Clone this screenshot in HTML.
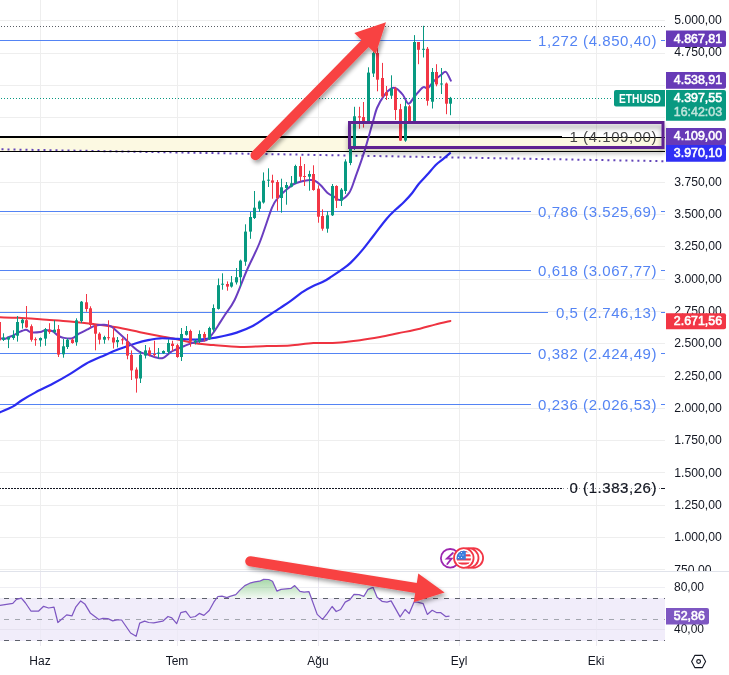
<!DOCTYPE html><html><head><meta charset="utf-8"><style>html,body{margin:0;padding:0;background:#fff;overflow:hidden}svg{display:block;will-change:transform}text{font-family:"Liberation Sans",sans-serif}</style></head><body>
<svg width="729" height="675" viewBox="0 0 729 675">
<defs><filter id="sh" x="-20%" y="-40%" width="140%" height="180%"><feGaussianBlur in="SourceAlpha" stdDeviation="2.2"/><feOffset dx="2" dy="3" result="b"/><feComponentTransfer><feFuncA type="linear" slope="0.36"/></feComponentTransfer><feMerge><feMergeNode/><feMergeNode in="SourceGraphic"/></feMerge></filter><linearGradient id="gf" gradientUnits="userSpaceOnUse" x1="0" y1="579" x2="0" y2="598.5"><stop offset="0" stop-color="#4caf50" stop-opacity="0.5"/><stop offset="0.6" stop-color="#4caf50" stop-opacity="0.25"/><stop offset="1" stop-color="#4caf50" stop-opacity="0.06"/></linearGradient><linearGradient id="rs" x1="0" y1="0" x2="0" y2="1"><stop offset="0" stop-color="#000" stop-opacity="0.22"/><stop offset="1" stop-color="#000" stop-opacity="0"/></linearGradient><filter id="rsh" x="-5%" y="-50%" width="110%" height="200%"><feGaussianBlur in="SourceAlpha" stdDeviation="2.5"/><feOffset dx="0" dy="4"/><feComponentTransfer><feFuncA type="linear" slope="0.38"/></feComponentTransfer><feMerge><feMergeNode/><feMergeNode in="SourceGraphic"/></feMerge></filter><clipPath id="cc"><rect x="0" y="0" width="665" height="571"/></clipPath><clipPath id="rc"><rect x="0" y="572" width="665" height="74"/></clipPath></defs>
<rect width="729" height="675" fill="#fff"/>
<rect x="40" y="0" width="1" height="646" fill="#eeeeee"/>
<rect x="177" y="0" width="1" height="646" fill="#eeeeee"/>
<rect x="318" y="0" width="1" height="646" fill="#eeeeee"/>
<rect x="459" y="0" width="1" height="646" fill="#eeeeee"/>
<rect x="596" y="0" width="1" height="646" fill="#eeeeee"/>
<rect x="0" y="20" width="665" height="1" fill="#eeeeee"/>
<rect x="0" y="53" width="665" height="1" fill="#eeeeee"/>
<rect x="0" y="85" width="665" height="1" fill="#eeeeee"/>
<rect x="0" y="117" width="665" height="1" fill="#eeeeee"/>
<rect x="0" y="150" width="665" height="1" fill="#eeeeee"/>
<rect x="0" y="182" width="665" height="1" fill="#eeeeee"/>
<rect x="0" y="214" width="665" height="1" fill="#eeeeee"/>
<rect x="0" y="246" width="665" height="1" fill="#eeeeee"/>
<rect x="0" y="279" width="665" height="1" fill="#eeeeee"/>
<rect x="0" y="311" width="665" height="1" fill="#eeeeee"/>
<rect x="0" y="343" width="665" height="1" fill="#eeeeee"/>
<rect x="0" y="376" width="665" height="1" fill="#eeeeee"/>
<rect x="0" y="408" width="665" height="1" fill="#eeeeee"/>
<rect x="0" y="440" width="665" height="1" fill="#eeeeee"/>
<rect x="0" y="472" width="665" height="1" fill="#eeeeee"/>
<rect x="0" y="505" width="665" height="1" fill="#eeeeee"/>
<rect x="0" y="537" width="665" height="1" fill="#eeeeee"/>
<rect x="0" y="569" width="665" height="1" fill="#eeeeee"/>
<rect x="0" y="138" width="665" height="13" fill="#fcf9e2"/>
<line x1="0" y1="26.5" x2="665" y2="26.5" stroke="#5a5e66" stroke-width="1" stroke-dasharray="1 2" stroke-dashoffset="-1"/>
<line x1="0" y1="98.5" x2="613" y2="98.5" stroke="#089981" stroke-width="1" stroke-dasharray="1 2" stroke-dashoffset="-1"/>
<line x1="0" y1="149.3" x2="665" y2="161.2" stroke="#6244b8" stroke-width="2" stroke-dasharray="2 4" stroke-dashoffset="-1.5"/>
<rect x="0" y="40" width="531" height="1" fill="#5484f4"/>
<rect x="661" y="40" width="4" height="1" fill="#5484f4"/>
<text x="657" y="45.5" text-anchor="end" font-size="15" letter-spacing="0.55" fill="#5484f4">1,272 (4.850,40)</text>
<rect x="0" y="211" width="531" height="1" fill="#5484f4"/>
<rect x="661" y="211" width="4" height="1" fill="#5484f4"/>
<text x="657" y="216.5" text-anchor="end" font-size="15" letter-spacing="0.55" fill="#5484f4">0,786 (3.525,69)</text>
<rect x="0" y="270" width="531" height="1" fill="#5484f4"/>
<rect x="661" y="270" width="4" height="1" fill="#5484f4"/>
<text x="657" y="275.5" text-anchor="end" font-size="15" letter-spacing="0.55" fill="#5484f4">0,618 (3.067,77)</text>
<rect x="0" y="312" width="548" height="1" fill="#5484f4"/>
<rect x="661" y="312" width="4" height="1" fill="#5484f4"/>
<text x="657" y="317.5" text-anchor="end" font-size="15" letter-spacing="0.55" fill="#5484f4">0,5 (2.746,13)</text>
<rect x="0" y="353" width="531" height="1" fill="#5484f4"/>
<rect x="661" y="353" width="4" height="1" fill="#5484f4"/>
<text x="657" y="358.5" text-anchor="end" font-size="15" letter-spacing="0.55" fill="#5484f4">0,382 (2.424,49)</text>
<rect x="0" y="404" width="531" height="1" fill="#5484f4"/>
<rect x="661" y="404" width="4" height="1" fill="#5484f4"/>
<text x="657" y="409.5" text-anchor="end" font-size="15" letter-spacing="0.55" fill="#5484f4">0,236 (2.026,53)</text>
<line x1="0" y1="488.5" x2="563" y2="488.5" stroke="#131722" stroke-width="1" stroke-dasharray="2 1" stroke-dashoffset="1"/>
<line x1="563" y1="488.5" x2="660" y2="488.5" stroke="#8a8d96" stroke-width="1" stroke-dasharray="1 3"/>
<rect x="661" y="488" width="4" height="1" fill="#131722"/>
<text x="657" y="493" text-anchor="end" font-size="15" letter-spacing="0.55" fill="#131722" stroke="#131722" stroke-width="0.2">0 (1.383,26)</text>
<rect x="0" y="136" width="562" height="2" fill="#000"/>
<rect x="562" y="137" width="103" height="1" fill="#000"/>
<rect x="0" y="151" width="665" height="1" fill="#000"/>
<text x="657" y="141.6" text-anchor="end" font-size="15" letter-spacing="0.55" fill="#474747">1 (4.109,00)</text>
<g clip-path="url(#cc)">
<path d="M0.0,317.3 C3.1,317.4 10.9,317.4 18.7,317.8 C26.5,318.2 38.1,319.2 46.6,319.8 C55.1,320.4 62.2,320.8 70.0,321.5 C77.8,322.2 85.5,323.0 93.3,324.0 C101.1,325.0 108.8,325.9 116.6,327.3 C124.4,328.7 132.2,330.6 140.0,332.2 C147.8,333.8 156.9,335.6 163.2,336.8 C169.5,338.0 172.4,338.3 177.8,339.4 C183.2,340.5 189.8,342.4 195.7,343.3 C201.6,344.2 206.1,344.5 213.5,345.1 C220.9,345.7 231.3,346.8 240.2,346.9 C249.1,347.0 258.7,346.2 267.0,346.0 C275.3,345.8 282.3,346.0 290.0,345.5 C297.7,345.0 305.5,343.6 313.3,343.1 C321.1,342.6 328.8,343.2 336.6,342.7 C344.4,342.2 352.8,341.1 360.0,340.2 C367.2,339.2 373.7,338.1 380.0,337.0 C386.3,335.9 391.3,334.7 398.0,333.3 C404.7,331.9 413.8,330.1 420.0,328.7 C426.2,327.2 429.9,325.9 435.0,324.6 C440.1,323.3 447.8,321.6 450.4,321.0" fill="none" stroke="#ee3340" stroke-width="2" stroke-linejoin="round" stroke-linecap="round"/>
<path d="M0.0,412.3 C2.2,411.3 9.5,408.4 13.2,406.4 C16.8,404.4 18.2,402.5 21.9,400.2 C25.5,397.9 30.0,395.3 35.1,392.6 C40.2,389.9 46.9,386.9 52.7,383.8 C58.6,380.7 64.7,377.2 70.2,373.9 C75.7,370.6 80.5,366.9 85.6,364.0 C90.7,361.1 95.5,359.2 101.0,356.8 C106.5,354.4 112.7,351.6 118.5,349.3 C124.3,347.0 131.0,344.8 136.1,343.2 C141.2,341.6 145.3,340.7 149.3,339.9 C153.3,339.1 155.2,338.5 160.0,338.3 C164.8,338.1 171.9,338.6 177.8,338.8 C183.8,339.0 190.3,339.8 195.7,339.7 C201.0,339.6 205.4,339.1 209.9,338.5 C214.4,337.9 217.9,337.2 222.4,336.2 C226.9,335.2 231.6,334.3 236.7,332.6 C241.8,330.9 247.6,328.7 252.7,326.0 C257.8,323.3 262.4,319.6 267.0,316.6 C271.6,313.6 276.1,310.7 280.0,308.1 C283.9,305.5 286.6,303.9 290.4,301.2 C294.2,298.5 299.0,294.4 302.8,291.9 C306.6,289.4 309.8,287.8 313.2,286.1 C316.6,284.4 320.4,283.2 323.5,281.6 C326.6,280.0 328.9,278.3 331.8,276.4 C334.7,274.5 338.0,272.4 341.1,270.2 C344.2,267.9 346.9,266.4 350.5,262.9 C354.1,259.4 359.1,253.9 362.9,249.4 C366.7,244.9 369.3,241.1 373.3,236.0 C377.3,230.9 382.9,223.1 386.7,218.7 C390.5,214.2 393.1,212.1 396.0,209.3 C398.9,206.5 401.3,204.7 404.0,202.0 C406.7,199.3 409.6,196.3 412.0,193.3 C414.4,190.3 416.2,187.0 418.7,184.0 C421.1,181.0 423.8,178.5 426.7,175.3 C429.6,172.1 433.3,167.4 436.0,164.7 C438.7,162.0 440.4,161.2 442.7,159.3 C445.0,157.4 448.8,154.1 450.0,153.1" fill="none" stroke="#2b2bf0" stroke-width="2.2" stroke-linejoin="round" stroke-linecap="round"/>
<path d="M0.0,338.1 C0.7,338.2 3.0,339.1 4.4,339.0 C5.8,338.9 6.9,337.8 8.4,337.2 C9.9,336.6 11.7,336.1 13.3,335.4 C14.9,334.7 15.7,333.8 17.8,332.8 C19.9,331.9 23.6,329.8 25.8,329.7 C28.0,329.6 28.6,331.9 31.0,332.3 C33.4,332.7 38.0,332.3 40.3,332.0 C42.6,331.7 43.0,330.5 45.0,330.3 C47.0,330.1 50.0,330.1 52.2,331.0 C54.4,331.9 56.3,334.6 58.1,335.7 C59.9,336.8 60.6,337.3 63.0,337.7 C65.4,338.1 69.6,339.0 72.3,338.3 C75.0,337.6 76.5,335.1 79.0,333.7 C81.5,332.3 84.3,331.0 87.0,329.7 C89.7,328.4 92.1,326.5 95.0,325.7 C97.9,324.9 101.6,324.6 104.3,324.7 C107.0,324.8 109.0,325.4 111.0,326.3 C113.0,327.2 113.7,328.4 116.0,330.4 C118.3,332.4 122.1,335.9 124.8,338.5 C127.5,341.1 129.7,343.8 132.2,346.0 C134.7,348.2 136.9,350.4 139.6,351.9 C142.3,353.4 145.5,353.8 148.5,354.8 C151.5,355.8 154.9,357.3 157.4,357.8 C159.9,358.3 161.2,358.7 163.3,357.8 C165.4,356.9 168.2,353.8 170.0,352.6 C171.8,351.4 171.5,351.5 173.9,350.4 C176.3,349.3 180.9,347.4 184.3,346.0 C187.8,344.6 190.9,343.2 194.6,342.2 C198.3,341.2 203.5,341.4 206.5,340.0 C209.5,338.6 210.4,336.5 212.4,334.0 C214.4,331.5 216.2,328.4 218.3,325.2 C220.4,322.0 222.3,319.0 225.0,314.8 C227.7,310.6 230.9,307.5 234.6,300.0 C238.3,292.5 242.8,279.5 247.0,270.0 C251.2,260.5 255.3,253.4 259.5,243.0 C263.7,232.6 268.9,215.2 272.0,207.7 C275.1,200.2 275.7,200.9 278.0,198.0 C280.3,195.1 283.3,192.3 286.0,190.0 C288.7,187.7 291.3,185.4 294.0,184.0 C296.7,182.6 299.3,182.0 302.0,181.3 C304.7,180.6 307.9,180.1 310.0,180.0 C312.1,179.9 312.9,179.8 314.7,180.7 C316.5,181.6 318.6,183.3 320.7,185.3 C322.8,187.3 325.1,190.8 327.3,192.7 C329.5,194.6 331.8,195.5 334.0,196.7 C336.2,197.9 337.8,200.7 340.4,200.0 C342.9,199.3 346.8,196.3 349.3,192.6 C351.8,188.9 352.8,184.5 355.2,177.8 C357.6,171.1 361.0,162.0 364.0,152.6 C367.0,143.2 370.8,128.9 373.0,121.5 C375.2,114.1 375.2,112.3 377.0,108.0 C378.8,103.7 381.7,98.9 384.0,95.7 C386.3,92.5 388.9,89.8 391.0,88.6 C393.1,87.4 394.5,87.5 396.5,88.6 C398.5,89.7 401.0,92.5 403.0,95.0 C405.0,97.5 406.6,103.4 408.5,103.7 C410.4,104.0 411.8,99.7 414.2,97.0 C416.6,94.3 420.6,88.8 422.9,87.3 C425.1,85.8 425.9,89.3 427.7,88.3 C429.5,87.3 431.2,83.8 433.5,81.5 C435.8,79.2 439.1,76.4 441.2,74.8 C443.3,73.2 444.4,71.0 446.0,72.0 C447.6,73.0 450.0,79.2 450.8,80.6" fill="none" stroke="#6a3dc0" stroke-width="2" stroke-linejoin="round" stroke-linecap="round"/>
<rect x="-1" y="318.0" width="1" height="24.0" fill="#f23645"/>
<rect x="-2" y="322.0" width="3" height="18.4" fill="#f23645"/>
<rect x="3" y="333.3" width="1" height="7.7" fill="#089981"/>
<rect x="2" y="337.4" width="3" height="2.4" fill="#089981"/>
<rect x="8" y="336.9" width="1" height="11.2" fill="#089981"/>
<rect x="7" y="336.9" width="3" height="2.7" fill="#089981"/>
<rect x="13" y="330.3" width="1" height="9.5" fill="#089981"/>
<rect x="12" y="335.0" width="3" height="3.0" fill="#089981"/>
<rect x="17" y="316.0" width="1" height="25.6" fill="#089981"/>
<rect x="16" y="322.0" width="3" height="13.7" fill="#089981"/>
<rect x="22" y="318.5" width="1" height="10.1" fill="#089981"/>
<rect x="21" y="319.7" width="3" height="3.5" fill="#089981"/>
<rect x="26" y="306.0" width="1" height="22.0" fill="#f23645"/>
<rect x="25" y="320.2" width="3" height="7.2" fill="#f23645"/>
<rect x="31" y="324.4" width="1" height="17.2" fill="#f23645"/>
<rect x="30" y="326.2" width="3" height="13.6" fill="#f23645"/>
<rect x="35" y="337.4" width="1" height="8.4" fill="#f23645"/>
<rect x="34" y="339.2" width="3" height="1.0" fill="#f23645"/>
<rect x="40" y="337.4" width="1" height="9.3" fill="#089981"/>
<rect x="39" y="338.0" width="3" height="2.4" fill="#089981"/>
<rect x="45" y="328.0" width="1" height="17.8" fill="#089981"/>
<rect x="44" y="329.1" width="3" height="9.5" fill="#089981"/>
<rect x="49" y="323.2" width="1" height="10.7" fill="#f23645"/>
<rect x="48" y="329.7" width="3" height="2.4" fill="#f23645"/>
<rect x="54" y="320.2" width="1" height="13.1" fill="#089981"/>
<rect x="53" y="329.7" width="3" height="2.4" fill="#089981"/>
<rect x="58" y="325.0" width="1" height="32.0" fill="#f23645"/>
<rect x="57" y="329.1" width="3" height="25.5" fill="#f23645"/>
<rect x="63" y="339.0" width="1" height="18.7" fill="#089981"/>
<rect x="62" y="346.3" width="3" height="8.0" fill="#089981"/>
<rect x="67" y="338.3" width="1" height="10.7" fill="#089981"/>
<rect x="66" y="339.7" width="3" height="7.3" fill="#089981"/>
<rect x="72" y="338.3" width="1" height="5.4" fill="#f23645"/>
<rect x="71" y="339.7" width="3" height="3.3" fill="#f23645"/>
<rect x="76" y="318.3" width="1" height="27.4" fill="#089981"/>
<rect x="75" y="320.3" width="3" height="22.0" fill="#089981"/>
<rect x="81" y="301.0" width="1" height="22.0" fill="#089981"/>
<rect x="80" y="301.7" width="3" height="19.3" fill="#089981"/>
<rect x="86" y="294.0" width="1" height="17.7" fill="#f23645"/>
<rect x="85" y="302.3" width="3" height="6.7" fill="#f23645"/>
<rect x="90" y="306.3" width="1" height="21.4" fill="#f23645"/>
<rect x="89" y="308.3" width="3" height="16.7" fill="#f23645"/>
<rect x="95" y="324.3" width="1" height="26.0" fill="#f23645"/>
<rect x="94" y="325.0" width="3" height="8.7" fill="#f23645"/>
<rect x="99" y="332.3" width="1" height="12.0" fill="#f23645"/>
<rect x="98" y="333.7" width="3" height="6.0" fill="#f23645"/>
<rect x="104" y="335.7" width="1" height="8.0" fill="#089981"/>
<rect x="103" y="337.0" width="3" height="2.7" fill="#089981"/>
<rect x="108" y="320.3" width="1" height="20.0" fill="#f23645"/>
<rect x="107" y="337.2" width="3" height="1.0" fill="#f23645"/>
<rect x="113" y="327.7" width="1" height="20.8" fill="#f23645"/>
<rect x="112" y="337.5" width="3" height="5.0" fill="#f23645"/>
<rect x="117" y="337.0" width="1" height="10.4" fill="#089981"/>
<rect x="116" y="340.0" width="3" height="2.2" fill="#089981"/>
<rect x="122" y="337.8" width="1" height="6.6" fill="#f23645"/>
<rect x="121" y="339.3" width="3" height="1.0" fill="#f23645"/>
<rect x="127" y="334.0" width="1" height="25.3" fill="#f23645"/>
<rect x="126" y="341.5" width="3" height="14.1" fill="#f23645"/>
<rect x="131" y="350.4" width="1" height="29.6" fill="#f23645"/>
<rect x="130" y="354.8" width="3" height="15.6" fill="#f23645"/>
<rect x="136" y="367.4" width="1" height="25.2" fill="#f23645"/>
<rect x="135" y="369.6" width="3" height="8.9" fill="#f23645"/>
<rect x="140" y="351.0" width="1" height="32.0" fill="#089981"/>
<rect x="139" y="354.8" width="3" height="23.7" fill="#089981"/>
<rect x="145" y="345.0" width="1" height="13.5" fill="#089981"/>
<rect x="144" y="350.4" width="3" height="5.2" fill="#089981"/>
<rect x="149" y="347.4" width="1" height="8.9" fill="#f23645"/>
<rect x="148" y="350.4" width="3" height="4.4" fill="#f23645"/>
<rect x="154" y="340.7" width="1" height="16.3" fill="#f23645"/>
<rect x="153" y="354.0" width="3" height="1.0" fill="#f23645"/>
<rect x="158" y="348.0" width="1" height="10.5" fill="#089981"/>
<rect x="157" y="352.6" width="3" height="1.0" fill="#089981"/>
<rect x="163" y="350.4" width="1" height="3.6" fill="#089981"/>
<rect x="162" y="351.0" width="3" height="2.3" fill="#089981"/>
<rect x="168" y="339.3" width="1" height="14.7" fill="#089981"/>
<rect x="167" y="343.0" width="3" height="8.9" fill="#089981"/>
<rect x="172" y="340.7" width="1" height="10.3" fill="#f23645"/>
<rect x="171" y="343.7" width="3" height="2.3" fill="#f23645"/>
<rect x="177" y="343.7" width="1" height="14.1" fill="#f23645"/>
<rect x="176" y="345.2" width="3" height="11.8" fill="#f23645"/>
<rect x="181" y="328.0" width="1" height="33.0" fill="#089981"/>
<rect x="180" y="334.0" width="3" height="23.0" fill="#089981"/>
<rect x="186" y="326.0" width="1" height="9.6" fill="#089981"/>
<rect x="185" y="331.0" width="3" height="3.8" fill="#089981"/>
<rect x="190" y="329.6" width="1" height="17.1" fill="#f23645"/>
<rect x="189" y="331.0" width="3" height="10.5" fill="#f23645"/>
<rect x="195" y="339.3" width="1" height="5.1" fill="#089981"/>
<rect x="194" y="340.7" width="3" height="1.5" fill="#089981"/>
<rect x="199" y="330.4" width="1" height="12.6" fill="#089981"/>
<rect x="198" y="334.0" width="3" height="7.5" fill="#089981"/>
<rect x="204" y="331.9" width="1" height="9.6" fill="#f23645"/>
<rect x="203" y="334.0" width="3" height="3.8" fill="#f23645"/>
<rect x="209" y="326.7" width="1" height="13.3" fill="#089981"/>
<rect x="208" y="328.0" width="3" height="11.3" fill="#089981"/>
<rect x="213" y="304.4" width="1" height="27.5" fill="#089981"/>
<rect x="212" y="308.0" width="3" height="21.6" fill="#089981"/>
<rect x="218" y="278.5" width="1" height="31.1" fill="#089981"/>
<rect x="217" y="285.2" width="3" height="23.7" fill="#089981"/>
<rect x="222" y="273.3" width="1" height="16.4" fill="#089981"/>
<rect x="221" y="283.7" width="3" height="1.0" fill="#089981"/>
<rect x="227" y="281.4" width="1" height="9.3" fill="#f23645"/>
<rect x="226" y="284.0" width="3" height="2.6" fill="#f23645"/>
<rect x="231" y="276.0" width="1" height="11.6" fill="#089981"/>
<rect x="230" y="282.4" width="3" height="4.2" fill="#089981"/>
<rect x="236" y="268.0" width="1" height="16.5" fill="#089981"/>
<rect x="235" y="277.2" width="3" height="5.2" fill="#089981"/>
<rect x="240" y="259.6" width="1" height="27.0" fill="#089981"/>
<rect x="239" y="260.6" width="3" height="16.6" fill="#089981"/>
<rect x="245" y="224.3" width="1" height="41.5" fill="#089981"/>
<rect x="244" y="231.6" width="3" height="30.1" fill="#089981"/>
<rect x="250" y="211.9" width="1" height="26.9" fill="#089981"/>
<rect x="249" y="217.0" width="3" height="14.6" fill="#089981"/>
<rect x="254" y="191.0" width="1" height="28.0" fill="#089981"/>
<rect x="253" y="207.7" width="3" height="10.3" fill="#089981"/>
<rect x="259" y="200.5" width="1" height="11.4" fill="#089981"/>
<rect x="258" y="201.5" width="3" height="7.3" fill="#089981"/>
<rect x="263" y="172.4" width="1" height="31.2" fill="#089981"/>
<rect x="262" y="180.7" width="3" height="21.8" fill="#089981"/>
<rect x="268" y="168.3" width="1" height="18.7" fill="#089981"/>
<rect x="267" y="179.7" width="3" height="1.0" fill="#089981"/>
<rect x="272" y="174.7" width="1" height="24.0" fill="#f23645"/>
<rect x="271" y="180.4" width="3" height="2.3" fill="#f23645"/>
<rect x="277" y="180.0" width="1" height="30.7" fill="#f23645"/>
<rect x="276" y="182.0" width="3" height="16.0" fill="#f23645"/>
<rect x="281" y="178.7" width="1" height="34.0" fill="#089981"/>
<rect x="280" y="187.3" width="3" height="10.7" fill="#089981"/>
<rect x="286" y="182.0" width="1" height="22.7" fill="#089981"/>
<rect x="285" y="185.0" width="3" height="3.0" fill="#089981"/>
<rect x="291" y="176.0" width="1" height="11.3" fill="#089981"/>
<rect x="290" y="183.3" width="3" height="3.4" fill="#089981"/>
<rect x="295" y="164.7" width="1" height="19.3" fill="#089981"/>
<rect x="294" y="166.0" width="3" height="17.3" fill="#089981"/>
<rect x="300" y="156.7" width="1" height="24.6" fill="#f23645"/>
<rect x="299" y="166.0" width="3" height="10.7" fill="#f23645"/>
<rect x="304" y="164.0" width="1" height="22.0" fill="#f23645"/>
<rect x="303" y="176.0" width="3" height="1.0" fill="#f23645"/>
<rect x="309" y="170.7" width="1" height="20.0" fill="#089981"/>
<rect x="308" y="174.0" width="3" height="2.7" fill="#089981"/>
<rect x="313" y="165.3" width="1" height="25.4" fill="#f23645"/>
<rect x="312" y="174.0" width="3" height="16.0" fill="#f23645"/>
<rect x="318" y="185.3" width="1" height="37.4" fill="#f23645"/>
<rect x="317" y="188.7" width="3" height="28.0" fill="#f23645"/>
<rect x="322" y="209.3" width="1" height="21.4" fill="#f23645"/>
<rect x="321" y="216.0" width="3" height="12.7" fill="#f23645"/>
<rect x="327" y="211.3" width="1" height="21.4" fill="#089981"/>
<rect x="326" y="215.3" width="3" height="13.4" fill="#089981"/>
<rect x="332" y="184.0" width="1" height="32.0" fill="#089981"/>
<rect x="331" y="186.0" width="3" height="29.3" fill="#089981"/>
<rect x="336" y="185.3" width="1" height="22.7" fill="#f23645"/>
<rect x="335" y="186.0" width="3" height="14.7" fill="#f23645"/>
<rect x="341" y="188.0" width="1" height="18.0" fill="#089981"/>
<rect x="340" y="189.6" width="3" height="11.1" fill="#089981"/>
<rect x="345" y="159.3" width="1" height="34.7" fill="#089981"/>
<rect x="344" y="161.5" width="3" height="29.5" fill="#089981"/>
<rect x="350" y="146.7" width="1" height="18.5" fill="#089981"/>
<rect x="349" y="148.9" width="3" height="14.1" fill="#089981"/>
<rect x="354" y="106.8" width="1" height="43.2" fill="#089981"/>
<rect x="353" y="116.3" width="3" height="32.6" fill="#089981"/>
<rect x="359" y="106.8" width="1" height="22.0" fill="#f23645"/>
<rect x="358" y="116.3" width="3" height="1.2" fill="#f23645"/>
<rect x="363" y="102.0" width="1" height="25.6" fill="#f23645"/>
<rect x="362" y="117.0" width="3" height="4.0" fill="#f23645"/>
<rect x="368" y="67.3" width="1" height="55.1" fill="#089981"/>
<rect x="367" y="72.6" width="3" height="48.4" fill="#089981"/>
<rect x="373" y="51.3" width="1" height="25.7" fill="#089981"/>
<rect x="372" y="53.0" width="3" height="20.5" fill="#089981"/>
<rect x="377" y="47.8" width="1" height="43.5" fill="#f23645"/>
<rect x="376" y="53.0" width="3" height="26.7" fill="#f23645"/>
<rect x="382" y="62.9" width="1" height="34.6" fill="#f23645"/>
<rect x="381" y="78.0" width="3" height="18.6" fill="#f23645"/>
<rect x="386" y="86.0" width="1" height="14.0" fill="#f23645"/>
<rect x="385" y="92.2" width="3" height="3.5" fill="#f23645"/>
<rect x="391" y="75.3" width="1" height="23.1" fill="#089981"/>
<rect x="390" y="88.6" width="3" height="7.1" fill="#089981"/>
<rect x="395" y="86.8" width="1" height="33.1" fill="#f23645"/>
<rect x="394" y="88.6" width="3" height="21.4" fill="#f23645"/>
<rect x="400" y="103.9" width="1" height="37.1" fill="#f23645"/>
<rect x="399" y="109.2" width="3" height="31.4" fill="#f23645"/>
<rect x="405" y="101.0" width="1" height="40.8" fill="#089981"/>
<rect x="404" y="106.3" width="3" height="34.3" fill="#089981"/>
<rect x="409" y="105.0" width="1" height="16.0" fill="#f23645"/>
<rect x="408" y="106.3" width="3" height="14.7" fill="#f23645"/>
<rect x="414" y="35.1" width="1" height="85.9" fill="#089981"/>
<rect x="413" y="42.0" width="3" height="79.0" fill="#089981"/>
<rect x="418" y="42.0" width="1" height="22.2" fill="#f23645"/>
<rect x="417" y="42.0" width="3" height="7.8" fill="#f23645"/>
<rect x="423" y="25.8" width="1" height="31.7" fill="#089981"/>
<rect x="422" y="48.8" width="3" height="1.0" fill="#089981"/>
<rect x="427" y="47.0" width="1" height="58.6" fill="#f23645"/>
<rect x="426" y="48.8" width="3" height="52.0" fill="#f23645"/>
<rect x="432" y="68.0" width="1" height="40.5" fill="#089981"/>
<rect x="431" y="72.0" width="3" height="29.7" fill="#089981"/>
<rect x="436" y="64.2" width="1" height="22.1" fill="#f23645"/>
<rect x="435" y="72.0" width="3" height="12.4" fill="#f23645"/>
<rect x="441" y="68.0" width="1" height="26.0" fill="#089981"/>
<rect x="440" y="83.5" width="3" height="1.0" fill="#089981"/>
<rect x="446" y="82.5" width="1" height="31.7" fill="#f23645"/>
<rect x="445" y="83.5" width="3" height="20.2" fill="#f23645"/>
<rect x="450" y="96.9" width="1" height="18.3" fill="#089981"/>
<rect x="449" y="97.9" width="3" height="5.8" fill="#089981"/>
</g>
<rect x="349.5" y="122.5" width="313.5" height="25" fill="none" stroke="#5f2392" stroke-width="3" filter="url(#rsh)"/>
<g filter="url(#sh)"><line x1="255.5" y1="155.2" x2="366.4" y2="42.2" stroke="#f84343" stroke-width="10.0" stroke-linecap="round"/><path d="M375.7,54.1 L386.0,22.2 L354.3,33.1 Z" fill="#f84343"/></g>
<rect x="0" y="571" width="729" height="1" fill="#e0e3eb"/>
<rect x="0" y="598" width="665" height="43" fill="#f1edfa"/>
<rect x="0" y="587" width="665" height="1" fill="#eeeef3"/>
<rect x="0" y="629" width="665" height="1" fill="#e6e2f0"/>
<rect x="40" y="572" width="1" height="74" fill="#e9e6f2" opacity="0.6"/>
<rect x="177" y="572" width="1" height="74" fill="#e9e6f2" opacity="0.6"/>
<rect x="318" y="572" width="1" height="74" fill="#e9e6f2" opacity="0.6"/>
<rect x="459" y="572" width="1" height="74" fill="#e9e6f2" opacity="0.6"/>
<rect x="596" y="572" width="1" height="74" fill="#e9e6f2" opacity="0.6"/>
<line x1="4" y1="598.5" x2="665" y2="598.5" stroke="#5d606b" stroke-width="1" stroke-dasharray="5 6"/>
<line x1="4" y1="619.5" x2="665" y2="619.5" stroke="#a3a6af" stroke-width="1" stroke-dasharray="5 6"/>
<line x1="4" y1="640.5" x2="665" y2="640.5" stroke="#5d606b" stroke-width="1" stroke-dasharray="5 6"/>
<clipPath id="ab"><rect x="0" y="560" width="665" height="38.5"/></clipPath>
<polygon clip-path="url(#ab)" points="0.0,605.5 6.6,604.4 12.8,603.4 16.5,599.4 21.4,598.1 25.5,603.0 30.9,611.0 38.7,611.0 43.6,606.3 48.6,608.0 54.0,607.2 57.9,622.5 66.7,614.9 71.9,615.9 75.7,607.2 80.7,600.9 84.8,603.9 90.2,612.9 98.8,619.5 102.9,618.4 107.8,618.7 112.8,620.8 116.9,619.8 121.6,620.0 130.6,633.0 136.1,636.3 139.7,623.1 144.6,621.2 148.7,622.5 153.7,622.8 162.7,621.2 168.0,616.5 171.8,617.9 176.7,623.6 180.8,612.6 185.8,611.3 190.4,617.5 195.3,616.5 199.3,613.4 203.9,615.4 209.2,610.5 213.8,602.2 217.9,596.5 222.0,596.1 226.9,597.6 230.0,596.3 235.8,594.7 239.9,590.1 244.8,585.6 249.8,583.2 254.7,581.9 259.6,581.2 263.7,579.4 268.7,579.5 272.5,581.2 276.9,591.1 281.0,589.4 290.9,588.4 294.7,585.6 300.0,591.4 304.1,592.2 309.0,591.7 317.2,614.4 322.5,619.4 327.1,613.6 332.1,606.5 336.2,611.5 340.6,609.5 345.2,602.1 349.9,599.6 354.0,594.4 359.0,594.7 363.9,596.3 368.0,589.4 373.0,587.3 377.1,597.2 382.0,601.3 387.0,602.1 391.1,600.9 400.1,616.9 405.1,609.5 409.2,613.6 414.1,602.1 417.4,602.1 423.2,603.7 427.3,614.4 432.2,610.3 436.4,612.5 440.5,612.5 445.7,616.6 449.5,616.1 449.5,598.5 0,598.5" fill="url(#gf)"/>
<polyline points="0.0,605.5 6.6,604.4 12.8,603.4 16.5,599.4 21.4,598.1 25.5,603.0 30.9,611.0 38.7,611.0 43.6,606.3 48.6,608.0 54.0,607.2 57.9,622.5 66.7,614.9 71.9,615.9 75.7,607.2 80.7,600.9 84.8,603.9 90.2,612.9 98.8,619.5 102.9,618.4 107.8,618.7 112.8,620.8 116.9,619.8 121.6,620.0 130.6,633.0 136.1,636.3 139.7,623.1 144.6,621.2 148.7,622.5 153.7,622.8 162.7,621.2 168.0,616.5 171.8,617.9 176.7,623.6 180.8,612.6 185.8,611.3 190.4,617.5 195.3,616.5 199.3,613.4 203.9,615.4 209.2,610.5 213.8,602.2 217.9,596.5 222.0,596.1 226.9,597.6 230.0,596.3 235.8,594.7 239.9,590.1 244.8,585.6 249.8,583.2 254.7,581.9 259.6,581.2 263.7,579.4 268.7,579.5 272.5,581.2 276.9,591.1 281.0,589.4 290.9,588.4 294.7,585.6 300.0,591.4 304.1,592.2 309.0,591.7 317.2,614.4 322.5,619.4 327.1,613.6 332.1,606.5 336.2,611.5 340.6,609.5 345.2,602.1 349.9,599.6 354.0,594.4 359.0,594.7 363.9,596.3 368.0,589.4 373.0,587.3 377.1,597.2 382.0,601.3 387.0,602.1 391.1,600.9 400.1,616.9 405.1,609.5 409.2,613.6 414.1,602.1 417.4,602.1 423.2,603.7 427.3,614.4 432.2,610.3 436.4,612.5 440.5,612.5 445.7,616.6 449.5,616.1" fill="none" stroke="#7e57c2" stroke-width="1.25" stroke-linejoin="round"/>
<g filter="url(#sh)"><line x1="250.2" y1="561.2" x2="417.9" y2="588.2" stroke="#f84343" stroke-width="10.0" stroke-linecap="round"/><path d="M413.7,602.2 L444.6,592.5 L418.3,573.6 Z" fill="#f84343"/></g>
<circle cx="450.2" cy="558.3" r="9.3" fill="#fff" stroke="#9c27b0" stroke-width="1.8"/>
<path d="M452.9,553 L446.9,558.6 L451.6,558.6 L447.3,564" fill="none" stroke="#9c27b0" stroke-width="1.8" stroke-linejoin="miter" stroke-linecap="round"/>
<circle cx="473.3" cy="558" r="9.8" fill="#fff" stroke="#f23645" stroke-width="1.8"/>
<circle cx="468.7" cy="558" r="9.8" fill="#fff" stroke="#f23645" stroke-width="1.8"/>
<circle cx="463.8" cy="558" r="9.8" fill="#fff" stroke="#f23645" stroke-width="1.8"/>
<clipPath id="fl"><circle cx="463.8" cy="558" r="7.3"/></clipPath>
<g clip-path="url(#fl)">
<rect x="455" y="549" width="18" height="18" fill="#fff"/>
<rect x="455" y="550.2" width="18" height="2.1" fill="#f23645"/>
<rect x="455" y="554.3" width="18" height="2.1" fill="#f23645"/>
<rect x="455" y="558.4" width="18" height="2.1" fill="#f23645"/>
<rect x="455" y="562.5" width="18" height="2.1" fill="#f23645"/>
<rect x="455" y="566.6" width="18" height="2.1" fill="#f23645"/>
<rect x="455" y="549" width="10.8" height="10.6" fill="#3b7ddd"/>
<rect x="458.0" y="552.0" width="1" height="1" fill="#dfe9fb"/>
<rect x="461.0" y="552.0" width="1" height="1" fill="#dfe9fb"/>
<rect x="459.5" y="554.5" width="1" height="1" fill="#dfe9fb"/>
<rect x="462.5" y="554.5" width="1" height="1" fill="#dfe9fb"/>
<rect x="458.0" y="557.0" width="1" height="1" fill="#dfe9fb"/>
<rect x="461.0" y="557.0" width="1" height="1" fill="#dfe9fb"/>
</g>
<text x="674.3" y="23.8" font-size="12.2" fill="#131722">5.000,00</text>
<text x="674.3" y="56.1" font-size="12.2" fill="#131722">4.750,00</text>
<text x="674.3" y="185.5" font-size="12.2" fill="#131722">3.750,00</text>
<text x="674.3" y="217.9" font-size="12.2" fill="#131722">3.500,00</text>
<text x="674.3" y="250.2" font-size="12.2" fill="#131722">3.250,00</text>
<text x="674.3" y="282.5" font-size="12.2" fill="#131722">3.000,00</text>
<text x="674.3" y="314.9" font-size="12.2" fill="#131722">2.750,00</text>
<text x="674.3" y="347.2" font-size="12.2" fill="#131722">2.500,00</text>
<text x="674.3" y="379.6" font-size="12.2" fill="#131722">2.250,00</text>
<text x="674.3" y="411.9" font-size="12.2" fill="#131722">2.000,00</text>
<text x="674.3" y="444.3" font-size="12.2" fill="#131722">1.750,00</text>
<text x="674.3" y="476.6" font-size="12.2" fill="#131722">1.500,00</text>
<text x="674.3" y="509.0" font-size="12.2" fill="#131722">1.250,00</text>
<text x="674.3" y="541.3" font-size="12.2" fill="#131722">1.000,00</text>
<text x="674.3" y="573.6" font-size="12.2" fill="#131722">750,00</text>
<path d="M666,30.5 H724 Q726,30.5 726,32.5 V45.0 Q726,47.0 724,47.0 H666 Z" fill="#673ab7"/>
<text x="673.8" y="42.6" font-size="12.4" fill="#fff" stroke="#fff" stroke-width="0.6">4.867,81</text>
<path d="M666,72.0 H724 Q726,72.0 726,74.0 V86.7 Q726,88.7 724,88.7 H666 Z" fill="#673ab7"/>
<text x="673.8" y="84.2" font-size="12.4" fill="#fff" stroke="#fff" stroke-width="0.6">4.538,91</text>
<path d="M666,90 H724 Q726,90 726,92 V118.7 Q726,120.7 724,120.7 H666 Z" fill="#089981"/>
<text x="673.8" y="102" font-size="12.4" fill="#fff" stroke="#fff" stroke-width="0.6">4.397,55</text>
<text x="673.8" y="115.8" font-size="12.4" fill="#bfe4db" stroke="#bfe4db" stroke-width="0.5">16:42:03</text>
<path d="M665,90 H616 Q614,90 614,92 V104.4 Q614,106.4 616,106.4 H665 Z" fill="#089981"/>
<text x="619" y="102.5" font-size="12" font-weight="bold" fill="#fff" textLength="42" lengthAdjust="spacingAndGlyphs">ETHUSD</text>
<path d="M666,128.0 H724 Q726,128.0 726,130.0 V143.0 Q726,145.0 724,145.0 H666 Z" fill="#673ab7"/>
<text x="673.8" y="140.4" font-size="12.4" fill="#fff" stroke="#fff" stroke-width="0.6">4.109,00</text>
<path d="M666,145.0 H724 Q726,145.0 726,147.0 V159.8 Q726,161.8 724,161.8 H666 Z" fill="#2f2ff5"/>
<text x="673.8" y="157.3" font-size="12.4" fill="#fff" stroke="#fff" stroke-width="0.6">3.970,10</text>
<path d="M666,313.3 H724 Q726,313.3 726,315.3 V327.3 Q726,329.3 724,329.3 H666 Z" fill="#f23645"/>
<text x="673.8" y="325.2" font-size="12.4" fill="#fff" stroke="#fff" stroke-width="0.6">2.671,56</text>
<rect x="665" y="572" width="64" height="4" fill="#fff"/>
<rect x="665" y="571" width="64" height="1" fill="#e0e3eb"/>
<text x="674" y="590.5" font-size="12" fill="#131722">80,00</text>
<text x="674" y="633" font-size="12" fill="#131722">40,00</text>
<path d="M666,608 H707 Q709,608 709,610 V622.4 Q709,624.4 707,624.4 H666 Z" fill="#7e57c2"/>
<text x="673.8" y="620.3" font-size="12.4" fill="#fff" stroke="#fff" stroke-width="0.6">52,86</text>
<text x="40" y="665" text-anchor="middle" font-size="12" fill="#131722">Haz</text>
<text x="177" y="665" text-anchor="middle" font-size="12" fill="#131722">Tem</text>
<text x="318" y="665" text-anchor="middle" font-size="12" fill="#131722">Ağu</text>
<text x="459" y="665" text-anchor="middle" font-size="12" fill="#131722">Eyl</text>
<text x="596" y="665" text-anchor="middle" font-size="12" fill="#131722">Eki</text>
<path d="M694.8,655.4 L702.4,655.4 L705.6,661.5 L702.4,667.6 L694.8,667.6 L691.6,661.5 Z" fill="none" stroke="#131722" stroke-width="1.1" stroke-linejoin="round"/>
<circle cx="698.6" cy="661.5" r="1.9" fill="none" stroke="#131722" stroke-width="1.1"/>
</svg></body></html>
